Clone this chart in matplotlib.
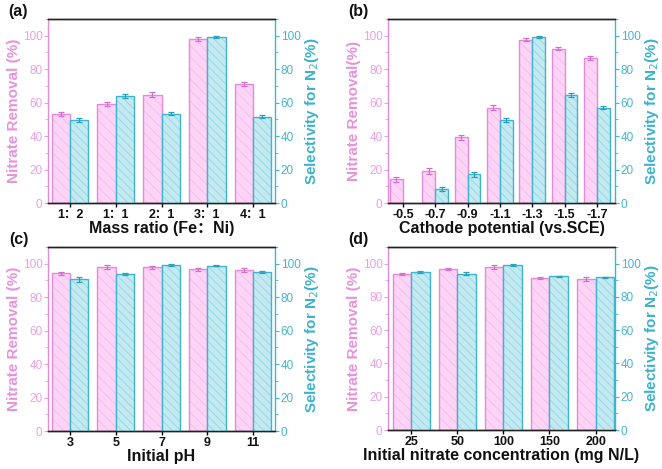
import matplotlib
matplotlib.use("Agg")
import matplotlib.pyplot as plt
from matplotlib.ticker import MultipleLocator
import numpy as np

plt.rcParams['font.family'] = ['Liberation Sans', 'Noto Sans CJK SC', 'DejaVu Sans']
plt.rcParams['hatch.linewidth'] = 0.5

# ---- data ----
a_labels = ['1：2', '1：1', '2：1', '3：1', '4：1']
a_removal = [53.2, 59.0, 64.8, 98.0, 71.0]
a_removal_err = [1.2, 1.3, 1.3, 1.0, 1.3]
a_select = [49.6, 64.0, 53.4, 99.2, 51.6]
a_select_err = [1.0, 1.3, 1.0, 0.6, 1.0]

b_labels = ['-0.5', '-0.7', '-0.9', '-1.1', '-1.3', '-1.5', '-1.7']
b_removal = [14.1, 19.1, 39.4, 57.0, 97.6, 92.2, 86.6]
b_removal_err = [1.5, 1.8, 1.5, 1.6, 1.0, 0.8, 1.0]
b_select = [0.0, 8.6, 17.1, 49.8, 99.2, 64.7, 57.0]
b_select_err = [0.0, 1.2, 1.3, 1.2, 0.5, 1.2, 1.0]

c_labels = ['3', '5', '7', '9', '11']
c_removal = [94.2, 98.0, 97.8, 96.6, 96.2]
c_removal_err = [1.0, 1.0, 1.0, 0.8, 1.0]
c_select = [90.6, 94.0, 99.2, 98.8, 95.2]
c_select_err = [1.3, 0.6, 0.6, 0.4, 0.6]

d_labels = ['25', '50', '100', '150', '200']
d_removal = [93.6, 97.0, 98.0, 91.4, 90.6]
d_removal_err = [0.5, 0.6, 1.0, 0.7, 1.2]
d_select = [94.8, 93.8, 99.0, 92.4, 91.8]
d_select_err = [0.5, 0.9, 0.6, 0.4, 0.4]

PINK_EDGE = '#e48ad8'
PINK_FILL = '#fcd4f6'
PINK_HATCH = '#f3b6ec'
PINK_TXT = '#eaa0e2'
PINK_LAB = '#e792dc'
CYAN_EDGE = '#3fb4cc'
CYAN_FILL = '#c3e9f1'
CYAN_HATCH = '#8fd0e0'
CYAN_TXT = '#45b6cf'
CYAN_LAB = '#3cb2cc'

W, H = 662, 469
fig = plt.figure(figsize=(W / 100, H / 100), dpi=100)


def rect(l, r, t, b):
    return [l / W, (H - b) / H, (r - l) / W, (b - t) / H]


panels = [
    ('(a)', rect(48, 275, 19, 203), a_labels, a_removal, a_removal_err, a_select, a_select_err,
     'Mass ratio (Fe：Ni)', 'Nitrate Removal (%)', (-0.48, 4.48), 9),
    ('(b)', rect(388, 615, 19, 203), b_labels, b_removal, b_removal_err, b_select, b_select_err,
     'Cathode potential (vs.SCE)', 'Nitrate Removal(%)', (-0.46, 6.56), 9),
    ('(c)', rect(48, 275, 247, 431), c_labels, c_removal, c_removal_err, c_select, c_select_err,
     'Initial pH', 'Nitrate Removal (%)', (-0.48, 4.48), 9),
    ('(d)', rect(388, 615, 247, 430), d_labels, d_removal, d_removal_err, d_select, d_select_err,
     'Initial nitrate concentration (mg N/L)', 'Nitrate Removal (%)', (-0.5, 4.42), 9),
]

for tag, r, labels, rem, rem_e, sel, sel_e, xlabel, ylabel, xlim, xfs in panels:
    ax = fig.add_axes(r)
    x = np.arange(len(labels))
    w = 0.4
    # pink bars: fill + light hatch, then outline
    ax.bar(x - w / 2, rem, width=w, color=PINK_FILL, edgecolor=PINK_HATCH, linewidth=0,
           hatch='\\\\\\', zorder=2)
    ax.bar(x - w / 2, rem, width=w, fill=False, edgecolor=PINK_EDGE, linewidth=1.0, zorder=2.5)
    ax.errorbar(x - w / 2, rem, yerr=rem_e, fmt='none', ecolor='#d070c8', elinewidth=0.9,
                capsize=2, capthick=0.9, zorder=3)
    ax2 = ax.twinx()
    sel_arr = np.array(sel, dtype=float)
    sel_err = np.array(sel_e, dtype=float)
    mask = sel_arr > 0
    ax2.bar(x[mask] + w / 2, sel_arr[mask], width=w, color=CYAN_FILL, edgecolor=CYAN_HATCH,
            linewidth=0, hatch='\\\\\\\\', zorder=2)
    ax2.bar(x[mask] + w / 2, sel_arr[mask], width=w, fill=False, edgecolor=CYAN_EDGE,
            linewidth=1.0, zorder=2.5)
    ax2.errorbar(x[mask] + w / 2, sel_arr[mask], yerr=sel_err[mask], fmt='none',
                 ecolor='#2a9fb8', elinewidth=0.9, capsize=2, capthick=0.9, zorder=3)
    for a_ in (ax, ax2):
        a_.set_ylim(0, 110)
        a_.set_xlim(*xlim)
        a_.yaxis.set_major_locator(MultipleLocator(20))
        a_.yaxis.set_minor_locator(MultipleLocator(10))
    ax.set_xticks(x)
    ax.set_xticklabels(labels, fontsize=xfs, fontweight='bold', color='#111111')
    ax.tick_params(axis='x', direction='out', length=3, width=1, pad=1)
    ax.tick_params(axis='y', which='major', colors=PINK_TXT, labelsize=8.5, length=3,
                   width=0.8, pad=1, direction='out')
    ax.tick_params(axis='y', which='minor', colors=PINK_TXT, length=2, width=0.6,
                   direction='out')
    ax2.tick_params(axis='y', which='major', colors=CYAN_TXT, labelsize=8.5, length=3,
                    width=0.8, pad=1, direction='out')
    ax2.tick_params(axis='y', which='minor', colors=CYAN_TXT, length=2, width=0.6,
                    direction='out')
    ax.set_xlabel(xlabel, fontsize=11.5, fontweight='bold', color='#111111', labelpad=0)
    ax.set_ylabel(ylabel, fontsize=11, fontweight='bold', color=PINK_LAB, labelpad=1)
    ax2.set_ylabel('Selectivity for N$_2$(%)', fontsize=11, fontweight='bold',
                   color=CYAN_LAB, labelpad=2)
    ax.spines['left'].set_color(PINK_EDGE)
    ax2.spines['left'].set_visible(False)
    ax2.spines['right'].set_color(CYAN_EDGE)
    ax.spines['right'].set_visible(False)
    for s in ('top', 'bottom'):
        ax.spines[s].set_color('#222222')
        ax2.spines[s].set_color('#222222')
    for sp in list(ax.spines.values()) + list(ax2.spines.values()):
        sp.set_linewidth(1.0)
    ax.text(-0.13, 1.04, tag, transform=ax.transAxes, fontsize=11.5, fontweight='bold',
            color='#111111', ha='center', va='center')

fig.savefig('out.png', dpi=100)
